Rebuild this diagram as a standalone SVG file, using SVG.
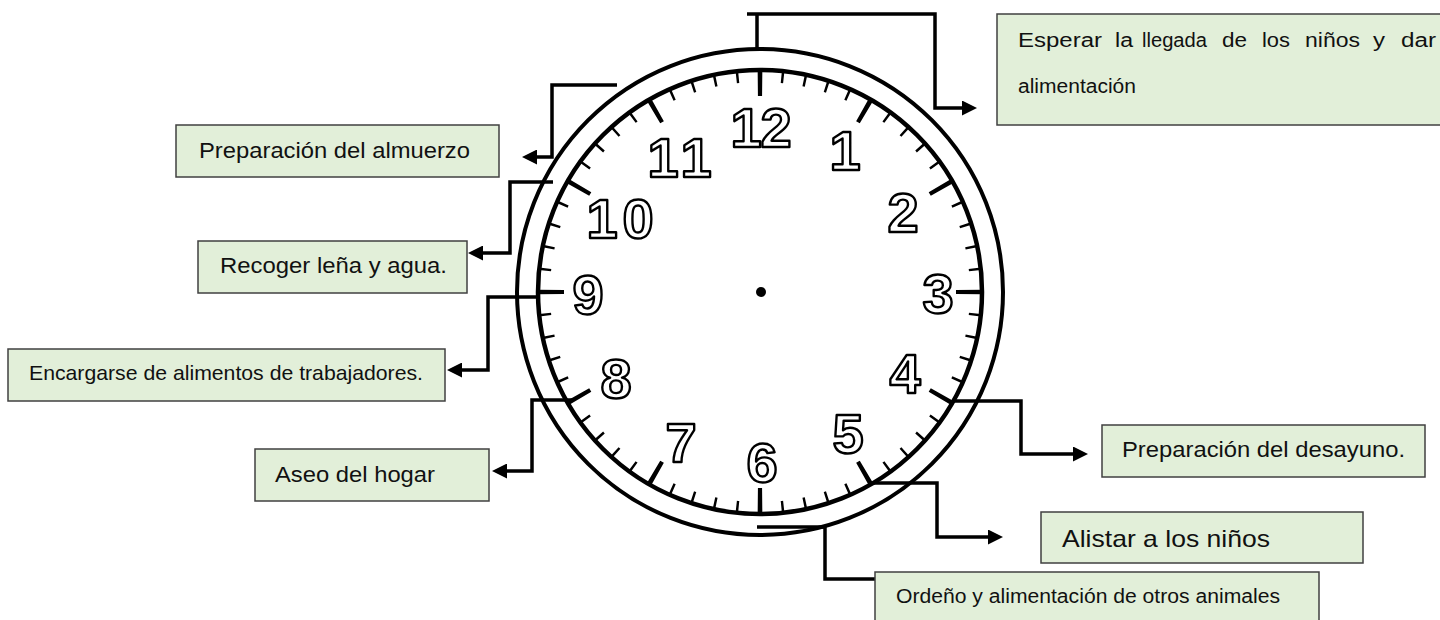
<svg xmlns="http://www.w3.org/2000/svg" width="1440" height="620" viewBox="0 0 1440 620">
<defs>
<style>
.box{fill:#e2efd9;stroke:#404040;stroke-width:1.5}
.lbl{font-family:"Liberation Sans",Arial,sans-serif;fill:#111}
.ring{fill:none;stroke:#000;stroke-width:4.5}
.num{font-family:"Liberation Sans",Arial,sans-serif;font-weight:bold;font-size:56px;fill:#fff;stroke:#000;stroke-width:2.4;stroke-linejoin:round;text-anchor:middle}
.con{fill:none;stroke:#000;stroke-width:3.5;stroke-linejoin:miter}
.w{font-family:"Liberation Sans",Arial,sans-serif;fill:#111;font-size:20px}
</style>
<marker id="arr" viewBox="0 0 15 15" refX="9" refY="7.5" markerWidth="15" markerHeight="15" markerUnits="userSpaceOnUse" orient="auto">
<path d="M0,0 L15,7.5 L0,15 z" fill="#000"/>
</marker>
</defs>
<rect width="1440" height="620" fill="#fff"/>

<g id="clock">
<circle cx="760" cy="292" r="243" fill="#fff" stroke="#000" stroke-width="4"/>
<circle class="ring" cx="760" cy="292" r="222"/>
<circle cx="760" cy="292" r="216" fill="none" stroke="#000" stroke-width="12" pathLength="60" stroke-dasharray="0.11 0.89" stroke-dashoffset="0.055"/>
<circle cx="760" cy="292" r="209" fill="none" stroke="#000" stroke-width="26" pathLength="12" stroke-dasharray="0.041 0.959" stroke-dashoffset="0.0205"/>
<circle cx="761" cy="292" r="5" fill="#000"/>
<text class="num" x="746 776" y="147">12</text>
<text class="num" x="845" y="170">1</text>
<text class="num" x="903" y="232">2</text>
<text class="num" x="938" y="313">3</text>
<text class="num" x="905" y="393">4</text>
<text class="num" x="848" y="453">5</text>
<text class="num" x="762" y="482">6</text>
<text class="num" x="681" y="462">7</text>
<text class="num" x="616" y="398">8</text>
<text class="num" x="588" y="314">9</text>
<text class="num" x="602 638" y="238">10</text>
<text class="num" x="663 696" y="177">11</text>
</g>

<g id="connectors">
<path class="con" d="M757,49 V14 M747,14 H935 V108 H971" marker-end="url(#arr)"/>
<path class="con" d="M617,85 H552 V157 H528" marker-end="url(#arr)"/>
<path class="con" d="M553,182 H510 V253 H474" marker-end="url(#arr)"/>
<path class="con" d="M540,297 H488 V370 H453" marker-end="url(#arr)"/>
<path class="con" d="M573,400 H532 V471 H498" marker-end="url(#arr)"/>
<path class="con" d="M953,401 H1021 V454 H1082" marker-end="url(#arr)"/>
<path class="con" d="M873,483 H937 V537 H997" marker-end="url(#arr)"/>
<path class="con" d="M757,527 H825 V579 H886" marker-end="url(#arr)"/>
</g>

<g id="n-esperar">
<rect class="box" x="997" y="14" width="450" height="111"/>
<text class="w" x="1018" y="47" textLength="84" lengthAdjust="spacingAndGlyphs">Esperar</text>
<text class="w" x="1115" y="47" textLength="18" lengthAdjust="spacingAndGlyphs">la</text>
<text class="w" x="1142" y="47" textLength="65" lengthAdjust="spacingAndGlyphs">llegada</text>
<text class="w" x="1222" y="47" textLength="25" lengthAdjust="spacingAndGlyphs">de</text>
<text class="w" x="1262" y="47" textLength="28" lengthAdjust="spacingAndGlyphs">los</text>
<text class="w" x="1305" y="47" textLength="55" lengthAdjust="spacingAndGlyphs">niños</text>
<text class="w" x="1373" y="47" textLength="12" lengthAdjust="spacingAndGlyphs">y</text>
<text class="w" x="1401" y="47" textLength="35" lengthAdjust="spacingAndGlyphs">dar</text>
<text class="w" x="1018" y="93" textLength="118" lengthAdjust="spacingAndGlyphs">alimentación</text>
</g>
<g id="n-almuerzo">
<rect class="box" x="176" y="125" width="323" height="52"/>
<text class="lbl" x="199" y="158" font-size="22" textLength="271" lengthAdjust="spacingAndGlyphs">Preparación del almuerzo</text>
</g>
<g id="n-recoger">
<rect class="box" x="198" y="241" width="269" height="52"/>
<text class="lbl" x="220" y="273" font-size="22" textLength="227" lengthAdjust="spacingAndGlyphs">Recoger leña y agua.</text>
</g>
<g id="n-encargarse">
<rect class="box" x="8" y="349" width="437" height="52"/>
<text class="lbl" x="29" y="380" font-size="21" textLength="394" lengthAdjust="spacingAndGlyphs">Encargarse de alimentos de trabajadores.</text>
</g>
<g id="n-aseo">
<rect class="box" x="255" y="449" width="234" height="52"/>
<text class="lbl" x="275" y="482" font-size="22" textLength="160" lengthAdjust="spacingAndGlyphs">Aseo del hogar</text>
</g>
<g id="n-desayuno">
<rect class="box" x="1102" y="425" width="323" height="52"/>
<text class="lbl" x="1122" y="457" font-size="22" textLength="283" lengthAdjust="spacingAndGlyphs">Preparación del desayuno.</text>
</g>
<g id="n-alistar">
<rect class="box" x="1041" y="512" width="322" height="51"/>
<text class="lbl" x="1062" y="547" font-size="24" textLength="208" lengthAdjust="spacingAndGlyphs">Alistar a los niños</text>
</g>
<g id="n-ordeno">
<rect class="box" x="875" y="572" width="444" height="56"/>
<text class="lbl" x="896" y="603" font-size="20" textLength="384" lengthAdjust="spacingAndGlyphs">Ordeño y alimentación de otros animales</text>
</g>
</svg>
